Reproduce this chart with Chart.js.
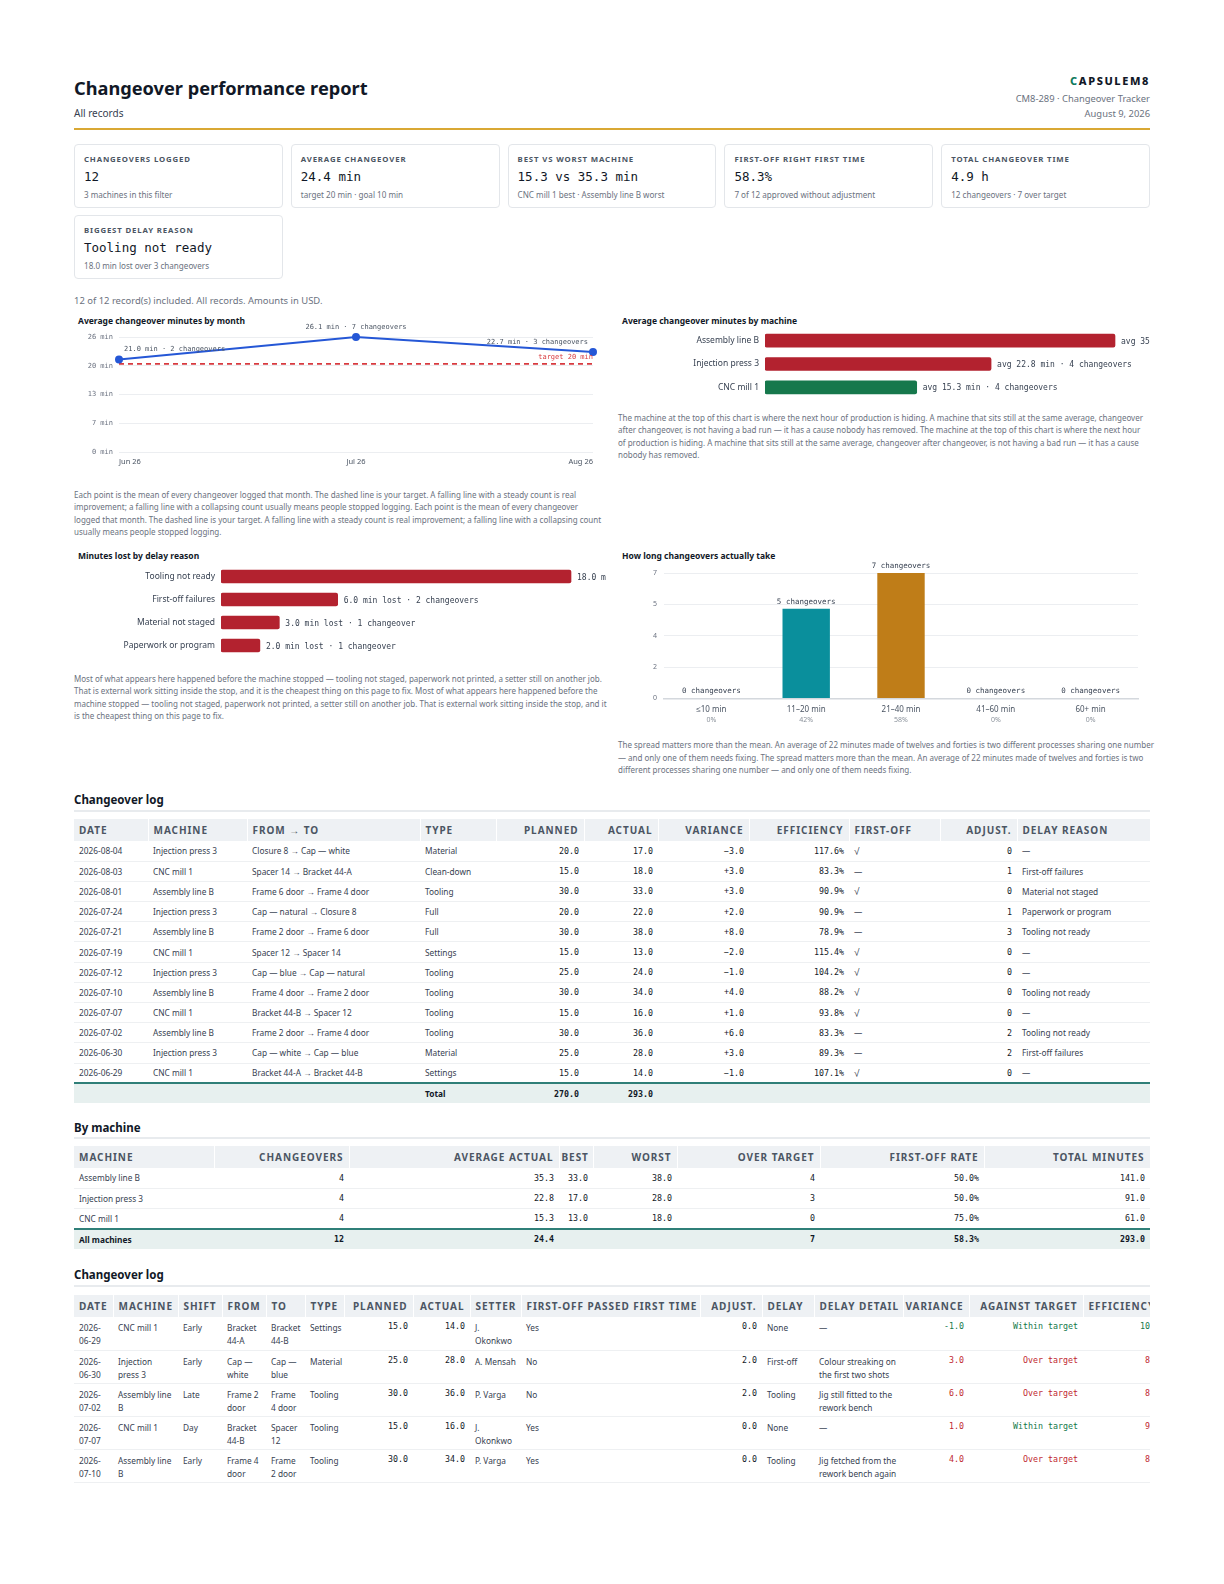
<!DOCTYPE html>
<html><head><meta charset="utf-8">
<script src="https://cdn.jsdelivr.net/npm/chart.js@4.4.1/dist/chart.umd.min.js"></script>
<style>
*{box-sizing:border-box;margin:0;padding:0}
body{width:1224px;height:1584px;background:#fff;font-family:"Noto Sans",sans-serif;color:#1f2937;position:relative;overflow:hidden}
.a{position:absolute}
#title{left:74px;top:76px;font-size:18.2px;font-weight:700;line-height:24px;color:#111827}
#subtitle{left:74px;top:106px;font-size:10px;line-height:14px;color:#374151}
#brand{right:74px;top:74px;text-align:right}
#brand .b{font-size:11px;font-weight:800;letter-spacing:1.6px;line-height:14px;color:#111827}
#brand .b span{color:#0f7a5c}
#brand .m{font-size:9.4px;line-height:15px;color:#6b7280}
#brand .m1{margin-top:3px}
#gold{left:74px;top:128px;width:1076px;height:2px;background:#d9a834}
#cards{left:74px;top:144px;width:1076px;display:grid;grid-template-columns:repeat(5,1fr);column-gap:8px;row-gap:7px}
.card{border:1.5px solid #e3e6ea;border-radius:4px;height:64px;padding:9px 9px}
.card .l{font-size:7.8px;font-weight:700;letter-spacing:.85px;color:#4b5563;line-height:11px;text-transform:uppercase}
.card .v{font-family:"DejaVu Sans Mono",monospace;font-size:12.5px;line-height:18px;margin-top:3px;color:#111827}
.card .s{font-size:8.1px;color:#6b7280;line-height:11px;margin-top:3px}
#note{left:74px;top:294px;font-size:9.45px;line-height:13px;color:#6b7280}
.ct{font-size:8.5px;font-weight:700;line-height:12px;color:#111827}
.cv{position:absolute}
.para{font-size:8px;line-height:12.4px;color:#6b7280}
.sh{left:74px;font-size:11.5px;font-weight:700;line-height:16px;color:#111827}
.sep{left:74px;width:1076px;height:2px;background:#e8ebee}
table{border-collapse:collapse;table-layout:fixed}
th{background:#eef1f4;color:#4b5563;font-size:10px;font-weight:700;letter-spacing:.95px;text-align:left;padding:0 4px 0 5px;height:22px;border-right:1px solid #fff;white-space:nowrap;overflow:hidden}
td{font-size:8.3px;color:#374151;padding:0 5px;height:20.2px;border-bottom:1.5px solid #eef0f2;white-space:nowrap}
td.n,th.n{text-align:right}
th.n{padding:0 5px 0 2px}
th.lft{text-align:left;padding:0 2px 0 5px}
td.n{font-family:"DejaVu Sans Mono",monospace;font-size:8.3px;color:#111827}
td .ck{font-size:10px;color:#374151}
tr.tot td{background:#e7f0ef;border-top:2px solid #2f7f78;border-bottom:none;font-weight:700;color:#111827}
#t3 td{white-space:normal;vertical-align:top;height:33px;padding-top:4px;line-height:13px}
#t3 td.n{white-space:nowrap;padding-top:3px}
.g{color:#13784a!important}.r{color:#c0272f!important}
</style></head><body>

<div id="title" class="a">Changeover performance report</div>
<div id="subtitle" class="a">All records</div>
<div id="brand" class="a"><div class="b"><span>C</span>APSULEM8</div><div class="m m1">CM8-289 · Changeover Tracker</div><div class="m">August 9, 2026</div></div>
<div id="gold" class="a"></div>
<div id="cards" class="a"></div>
<div id="note" class="a">12 of 12 record(s) included. All records. Amounts in USD.</div>

<div class="a ct" style="left:78px;top:315px">Average changeover minutes by month</div>
<div class="cv" style="left:74px;top:320px;width:532px;height:154px"><canvas id="cMonth"></canvas></div>
<div class="a para" id="p1" style="left:74px;top:489px;width:529px"></div>

<div class="a ct" style="left:622px;top:315px">Average changeover minutes by machine</div>
<div class="cv" style="left:618px;top:329px;width:532px;height:70px"><canvas id="cMachine"></canvas></div>
<div class="a para" id="p2" style="left:618px;top:412px;width:526px"></div>

<div class="a ct" style="left:78px;top:550px">Minutes lost by delay reason</div>
<div class="cv" style="left:74px;top:565px;width:532px;height:92px"><canvas id="cDelay"></canvas></div>
<div class="a para" id="p3" style="left:74px;top:673px;width:536px"></div>

<div class="a ct" style="left:622px;top:550px">How long changeovers actually take</div>
<div class="cv" style="left:618px;top:560px;width:532px;height:166px"><canvas id="cHist"></canvas></div>
<div class="a para" id="p4" style="left:618px;top:739px;width:536px;line-height:12.6px"></div>

<div class="a sh" style="top:792px">Changeover log</div>
<div class="a sep" style="top:810px"></div>
<div class="a" style="left:74px;top:819px;width:1076px"><table id="t1" style="width:1076px"></table></div>

<div class="a sh" style="top:1120px">By machine</div>
<div class="a sep" style="top:1137px"></div>
<div class="a" style="left:74px;top:1146px;width:1076px"><table id="t2" style="width:1076px"></table></div>

<div class="a sh" style="top:1267px">Changeover log</div>
<div class="a sep" style="top:1285px"></div>
<div class="a" style="left:74px;top:1295px;width:1076px;overflow:hidden"><table id="t3" style="width:1101px"></table></div>

<script>
// ---------- data ----------
const months = ['Jun 26', 'Jul 26', 'Aug 26'];
const monthAvg = [21.0, 26.1, 22.7];
const monthCount = [2, 7, 3];
const targetMin = 20;
const targetLine = [20, 20, 20];

const machines = ['Assembly line B', 'Injection press 3', 'CNC mill 1'];
const machineAvg = [35.3, 22.8, 15.3];
const machineCount = [4, 4, 4];

const delayReasons = ['Tooling not ready', 'First-off failures', 'Material not staged', 'Paperwork or program'];
const delayMinutes = [18.0, 6.0, 3.0, 2.0];
const delayCounts = [3, 2, 1, 1];

const bins = ['≤10 min', '11–20 min', '21–40 min', '41–60 min', '60+ min'];
const binCounts = [0, 5, 7, 0, 0];
const binShare = ['0%', '42%', '58%', '0%', '0%'];

const kpiLabels = ['Changeovers logged', 'Average changeover', 'Best vs worst machine', 'First-off right first time', 'Total changeover time', 'Biggest delay reason'];
const kpiValues = ['12', '24.4 min', '15.3 vs 35.3 min', '58.3%', '4.9 h', 'Tooling not ready'];
const kpiNotes = ['3 machines in this filter', 'target 20 min · goal 10 min', 'CNC mill 1 best · Assembly line B worst', '7 of 12 approved without adjustment', '12 changeovers · 7 over target', '18.0 min lost over 3 changeovers'];

// log: date, machine, from → to, type, planned, actual, first-off ok, adjustments, delay reason
const logRows = [
  ['2026-08-04', 'Injection press 3', 'Closure 8 → Cap — white', 'Material', 20.0, 17.0, true, 0, '—'],
  ['2026-08-03', 'CNC mill 1', 'Spacer 14 → Bracket 44-A', 'Clean-down', 15.0, 18.0, false, 1, 'First-off failures'],
  ['2026-08-01', 'Assembly line B', 'Frame 6 door → Frame 4 door', 'Tooling', 30.0, 33.0, true, 0, 'Material not staged'],
  ['2026-07-24', 'Injection press 3', 'Cap — natural → Closure 8', 'Full', 20.0, 22.0, false, 1, 'Paperwork or program'],
  ['2026-07-21', 'Assembly line B', 'Frame 2 door → Frame 6 door', 'Full', 30.0, 38.0, false, 3, 'Tooling not ready'],
  ['2026-07-19', 'CNC mill 1', 'Spacer 12 → Spacer 14', 'Settings', 15.0, 13.0, true, 0, '—'],
  ['2026-07-12', 'Injection press 3', 'Cap — blue → Cap — natural', 'Tooling', 25.0, 24.0, true, 0, '—'],
  ['2026-07-10', 'Assembly line B', 'Frame 4 door → Frame 2 door', 'Tooling', 30.0, 34.0, true, 0, 'Tooling not ready'],
  ['2026-07-07', 'CNC mill 1', 'Bracket 44-B → Spacer 12', 'Tooling', 15.0, 16.0, true, 0, '—'],
  ['2026-07-02', 'Assembly line B', 'Frame 2 door → Frame 4 door', 'Tooling', 30.0, 36.0, false, 2, 'Tooling not ready'],
  ['2026-06-30', 'Injection press 3', 'Cap — white → Cap — blue', 'Material', 25.0, 28.0, false, 2, 'First-off failures'],
  ['2026-06-29', 'CNC mill 1', 'Bracket 44-A → Bracket 44-B', 'Settings', 15.0, 14.0, true, 0, '—']
];
const logTotals = [270.0, 293.0];

// by machine: machine, changeovers, avg actual, best, worst, over target, first-off rate, total minutes
const machineRows = [
  ['Assembly line B', 4, '35.3', '33.0', '38.0', 4, '50.0%', '141.0'],
  ['Injection press 3', 4, '22.8', '17.0', '28.0', 3, '50.0%', '91.0'],
  ['CNC mill 1', 4, '15.3', '13.0', '18.0', 0, '75.0%', '61.0']
];
const machineTotal = ['All machines', 12, '24.4', '', '', 7, '58.3%', '293.0'];

// detail log: date, machine, shift, from, to, type, planned, actual, setter, first-off, adjust, delay, detail
const detailRows = [
  ['2026-06-29', 'CNC mill 1', 'Early', 'Bracket 44-A', 'Bracket 44-B', 'Settings', 15.0, 14.0, 'J. Okonkwo', 'Yes', 0.0, 'None', '—'],
  ['2026-06-30', 'Injection press 3', 'Early', 'Cap — white', 'Cap — blue', 'Material', 25.0, 28.0, 'A. Mensah', 'No', 2.0, 'First-off', 'Colour streaking on the first two shots'],
  ['2026-07-02', 'Assembly line B', 'Late', 'Frame 2 door', 'Frame 4 door', 'Tooling', 30.0, 36.0, 'P. Varga', 'No', 2.0, 'Tooling', 'Jig still fitted to the rework bench'],
  ['2026-07-07', 'CNC mill 1', 'Day', 'Bracket 44-B', 'Spacer 12', 'Tooling', 15.0, 16.0, 'J. Okonkwo', 'Yes', 0.0, 'None', '—'],
  ['2026-07-10', 'Assembly line B', 'Early', 'Frame 4 door', 'Frame 2 door', 'Tooling', 30.0, 34.0, 'P. Varga', 'Yes', 0.0, 'Tooling', 'Jig fetched from the rework bench again']
];

const paras = [
  'Each point is the mean of every changeover logged that month. The dashed line is your target. A falling line with a steady count is real improvement; a falling line with a collapsing count usually means people stopped logging.',
  'The machine at the top of this chart is where the next hour of production is hiding. A machine that sits still at the same average, changeover after changeover, is not having a bad run — it has a cause nobody has removed.',
  'Most of what appears here happened before the machine stopped — tooling not staged, paperwork not printed, a setter still on another job. That is external work sitting inside the stop, and it is the cheapest thing on this page to fix.',
  'The spread matters more than the mean. An average of 22 minutes made of twelves and forties is two different processes sharing one number — and only one of them needs fixing.'
];

// ---------- page text ----------
document.getElementById('cards').innerHTML = kpiLabels.map((l, i) =>
  `<div class="card"><div class="l">${l}</div><div class="v">${kpiValues[i]}</div><div class="s">${kpiNotes[i]}</div></div>`).join('');
['p1', 'p2', 'p3', 'p4'].forEach((id, i) => { document.getElementById(id).textContent = paras[i] + ' ' + paras[i]; });

const f1 = v => v.toFixed(1);
const sgn = v => (v > 0 ? '+' : v < 0 ? '−' : '') + Math.abs(v).toFixed(1);
const cols = w => '<colgroup>' + w.map(x => `<col style="width:${x}px">`).join('') + '</colgroup>';

// table 1
(function () {
  let h = cols([74, 99, 173, 76, 88, 74, 91, 100, 91, 77, 133]);
  h += '<tr><th>DATE</th><th>MACHINE</th><th>FROM → TO</th><th>TYPE</th><th class="n">PLANNED</th><th class="n">ACTUAL</th><th class="n">VARIANCE</th><th class="n">EFFICIENCY</th><th>FIRST-OFF</th><th class="n">ADJUST.</th><th>DELAY REASON</th></tr>';
  logRows.forEach(r => {
    h += `<tr><td>${r[0]}</td><td>${r[1]}</td><td>${r[2]}</td><td>${r[3]}</td><td class="n">${f1(r[4])}</td><td class="n">${f1(r[5])}</td><td class="n">${sgn(r[5] - r[4])}</td><td class="n">${(r[4] / r[5] * 100).toFixed(1)}%</td><td>${r[6] ? '<span class="ck">√</span>' : '—'}</td><td class="n">${r[7]}</td><td>${r[8]}</td></tr>`;
  });
  h += `<tr class="tot"><td></td><td></td><td></td><td>Total</td><td class="n">${f1(logTotals[0])}</td><td class="n">${f1(logTotals[1])}</td><td></td><td></td><td></td><td></td><td></td></tr>`;
  document.getElementById('t1').innerHTML = h;
})();

// table 2
(function () {
  let h = cols([140, 135, 210, 34, 84, 143, 164, 166]);
  h += '<tr><th>MACHINE</th><th class="n">CHANGEOVERS</th><th class="n">AVERAGE ACTUAL</th><th class="n">BEST</th><th class="n">WORST</th><th class="n">OVER TARGET</th><th class="n">FIRST-OFF RATE</th><th class="n">TOTAL MINUTES</th></tr>';
  machineRows.concat([machineTotal]).forEach((r, i) => {
    h += `<tr${i === machineRows.length ? ' class="tot"' : ''}><td>${r[0]}</td>` + r.slice(1).map(c => `<td class="n">${c}</td>`).join('') + '</tr>';
  });
  document.getElementById('t2').innerHTML = h;
})();

// table 3
(function () {
  let h = cols([39, 65, 44, 44, 39, 39, 69, 57, 51, 179, 62, 52, 89, 66, 114, 92]);
  h += '<tr><th>DATE</th><th>MACHINE</th><th>SHIFT</th><th>FROM</th><th>TO</th><th>TYPE</th><th class="n">PLANNED</th><th class="n">ACTUAL</th><th>SETTER</th><th>FIRST-OFF PASSED FIRST TIME</th><th class="n">ADJUST.</th><th>DELAY</th><th>DELAY DETAIL</th><th class="n">VARIANCE</th><th class="n">AGAINST TARGET</th><th class="lft">EFFICIENCY</th></tr>';
  detailRows.forEach(r => {
    const v = r[7] - r[6];
    const within = r[7] <= targetMin;
    const eff = r[6] / r[7] * 100;
    h += `<tr><td>${r[0]}</td><td>${r[1]}</td><td>${r[2]}</td><td>${r[3]}</td><td>${r[4]}</td><td>${r[5]}</td><td class="n">${f1(r[6])}</td><td class="n">${f1(r[7])}</td><td>${r[8]}</td><td>${r[9]}</td><td class="n">${f1(r[10])}</td><td>${r[11]}</td><td>${r[12]}</td>` +
      `<td class="n ${v > 0 ? 'r' : 'g'}">${(v < 0 ? '-' : '') + Math.abs(v).toFixed(1)}</td><td class="n ${within ? 'g' : 'r'}">${within ? 'Within target' : 'Over target'}</td><td class="n ${eff >= 100 ? 'g' : 'r'}">${eff.toFixed(1)}%</td></tr>`;
  });
  document.getElementById('t3').innerHTML = h;
})();

// ---------- charts ----------
const MONO = '"DejaVu Sans Mono", monospace';
const SANS = '"Noto Sans", sans-serif';
Chart.defaults.font.family = SANS;
Chart.defaults.animation = false;
Chart.defaults.devicePixelRatio = 1;
Chart.defaults.plugins.legend.display = false;
Chart.defaults.plugins.tooltip.enabled = false;
Chart.defaults.maintainAspectRatio = false;

const RED = '#b3222f', GREEN = '#16784c', BLUE = '#2557d6', TRED = '#d83a3f';
const fitY = w => s => { s.width = w; s.paddingTop = 0; s.paddingBottom = 0; };

// line chart
new Chart(document.getElementById('cMonth'), {
  type: 'line',
  data: {
    labels: months,
    datasets: [
      { data: monthAvg, borderColor: BLUE, backgroundColor: BLUE, borderWidth: 2, pointRadius: 3, pointBackgroundColor: BLUE, tension: 0, clip: false },
      { data: targetLine, borderColor: TRED, borderWidth: 1.6, borderDash: [5, 4], pointRadius: 0, clip: false }
    ]
  },
  options: {
    layout: { padding: { top: 17, right: 13, bottom: 3, left: 0 } },
    scales: {
      x: { grid: { display: false, drawTicks: false }, border: { display: false },
           ticks: { align: 'inner', padding: 5, color: '#4b5563', font: { size: 7.5 } } },
      y: { min: 0, max: Math.max(...monthAvg), ticks: { count: 5, padding: 6, color: '#6b7280', font: { family: MONO, size: 7 }, callback: v => Math.round(v) + ' min' },
           grid: { color: '#eceef1', drawTicks: false }, border: { display: false },
           afterFit: fitY(45) }
    }
  },
  plugins: [{
    id: 'lbl',
    afterDatasetsDraw(chart) {
      const ctx = chart.ctx, pts = chart.getDatasetMeta(0).data, n = pts.length;
      ctx.save();
      ctx.font = '7px ' + MONO; ctx.fillStyle = '#4b5563'; ctx.textBaseline = 'middle';
      pts.forEach((p, i) => {
        ctx.textAlign = i === 0 ? 'left' : (i === n - 1 ? 'right' : 'center');
        const dx = i === 0 ? 5 : (i === n - 1 ? -5 : 0);
        ctx.fillText(monthAvg[i].toFixed(1) + ' min · ' + monthCount[i] + ' changeovers', p.x + dx, p.y - 10);
      });
      const y = chart.scales.y.getPixelForValue(targetMin);
      ctx.fillStyle = TRED; ctx.textAlign = 'right';
      ctx.fillText('target ' + targetMin + ' min', chart.chartArea.right, y - 7);
      ctx.restore();
    }
  }]
});

function hbar(id, labels, values, colors, textFn) {
  new Chart(document.getElementById(id), {
    type: 'bar',
    data: { labels, datasets: [{ data: values, backgroundColor: colors, barThickness: 13, borderRadius: 2, borderSkipped: false }] },
    options: {
      indexAxis: 'y',
      layout: { padding: 0 },
      scales: {
        x: { display: false, min: 0, max: Math.max(...values) * 1.1 },
        y: { grid: { display: false, drawTicks: false }, border: { display: false },
             ticks: { padding: 6, color: '#374151', font: { size: 8.5 } }, afterFit: fitY(147) }
      }
    },
    plugins: [{
      id: 'vl',
      afterDatasetsDraw(chart) {
        const ctx = chart.ctx;
        ctx.save(); ctx.font = '8px ' + MONO; ctx.fillStyle = '#374151'; ctx.textBaseline = 'middle'; ctx.textAlign = 'left';
        chart.getDatasetMeta(0).data.forEach((b, i) => ctx.fillText(textFn(i), b.x + 6, b.y + 1));
        ctx.restore();
      }
    }]
  });
}
hbar('cMachine', machines, machineAvg, machineAvg.map(v => v > targetMin ? RED : GREEN),
  i => 'avg ' + machineAvg[i].toFixed(1) + ' min · ' + machineCount[i] + ' changeovers');
hbar('cDelay', delayReasons, delayMinutes, delayMinutes.map(() => RED),
  i => delayMinutes[i].toFixed(1) + ' min lost · ' + delayCounts[i] + ' changeover' + (delayCounts[i] === 1 ? '' : 's'));

// histogram
const binColors = ['#0a8f9c', '#0a8f9c', '#bf7d18', '#bf7d18', '#bf7d18'];
new Chart(document.getElementById('cHist'), {
  type: 'bar',
  data: { labels: bins, datasets: [{ data: binCounts, backgroundColor: binColors, barPercentage: 0.5, categoryPercentage: 1 }] },
  options: {
    layout: { padding: { top: 13, right: 12, bottom: 4, left: 0 } },
    scales: {
      x: { grid: { display: false, drawTicks: false }, border: { color: '#d4d8dd', width: 1.5 },
           ticks: { padding: 7, color: '#4b5563', font: { size: 8 } } },
      y: { min: 0, max: Math.max(...binCounts), ticks: { count: 5, padding: 7, color: '#6b7280', font: { size: 7 }, callback: v => Math.round(v) },
           grid: { color: '#eceef1', drawTicks: false }, border: { display: false },
           afterFit: fitY(46) }
    }
  },
  plugins: [{
    id: 'hl',
    afterDraw(chart) {
      const ctx = chart.ctx, xs = chart.scales.x;
      ctx.save(); ctx.textBaseline = 'middle'; ctx.textAlign = 'center';
      chart.getDatasetMeta(0).data.forEach((b, i) => {
        ctx.font = '7.5px ' + MONO; ctx.fillStyle = '#374151';
        ctx.fillText(binCounts[i] + ' changeovers', b.x, b.y - 7);
        ctx.font = '7px ' + SANS; ctx.fillStyle = '#8b929b';
        ctx.fillText(binShare[i], xs.getPixelForTick(i), xs.top + 22);
      });
      ctx.restore();
    }
  }]
});
</script>
</body></html>
